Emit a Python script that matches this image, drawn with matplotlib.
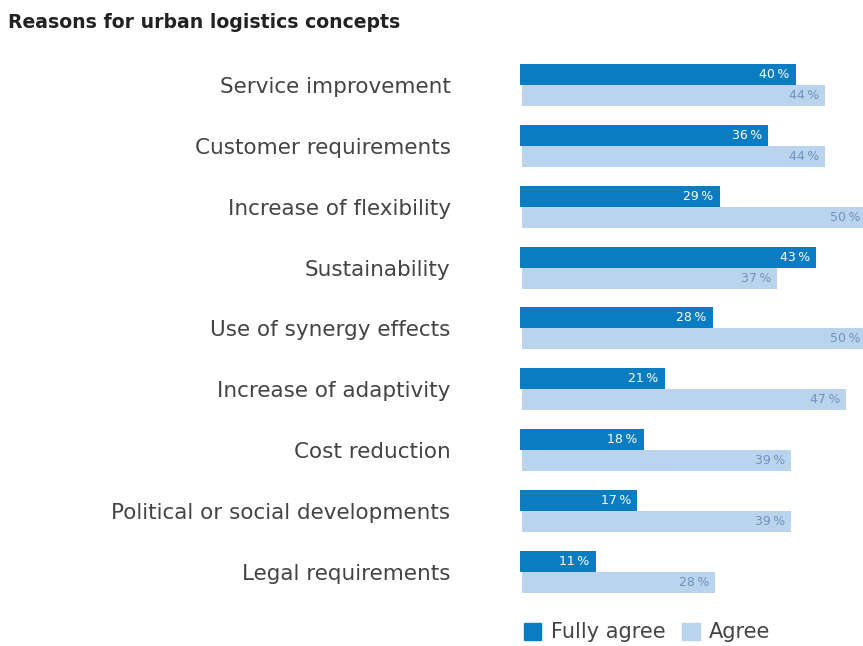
import numpy as np
import matplotlib.pyplot as plt
from matplotlib.patches import Patch

categories = [
    "Service improvement",
    "Customer requirements",
    "Increase of flexibility",
    "Sustainability",
    "Use of synergy effects",
    "Increase of adaptivity",
    "Cost reduction",
    "Political or social developments",
    "Legal requirements",
]
fully_agree = [40, 36, 29, 43, 28, 21, 18, 17, 11]
agree = [44, 44, 50, 37, 50, 47, 39, 39, 28]

dark = "#0a7cc1"
light = "#bad4ee"
light_text = "#6e93bb"
label_color = "#444444"

fig = plt.figure(figsize=(8.63, 6.46), dpi=100)
ax = fig.add_axes([0.6026, 0.0675, 0.3974, 0.848])

y = np.arange(len(categories))
h = 0.345
ax.barh(y - h / 2, fully_agree, height=h, color=dark)
ax.barh(y + h / 2, agree, height=h, color=light, left=0.3)

for i in range(len(categories)):
    ax.text(fully_agree[i] - 0.9, y[i] - h / 2, f"{fully_agree[i]}\u2009%",
            ha="right", va="center", color="white", fontsize=9)
    ax.text(agree[i] - 0.5, y[i] + h / 2, f"{agree[i]}\u2009%",
            ha="right", va="center", color=light_text, fontsize=9)

ax.set_xlim(0, 49.8)
ax.set_ylim(len(categories) - 0.5, -0.5)
ax.set_yticks(y)
ax.set_yticklabels(categories, fontsize=15.5, color=label_color)
ax.tick_params(axis="y", length=0, pad=50)
ax.set_xticks([])
for s in ax.spines.values():
    s.set_visible(False)

fig.text(0.009, 0.965, "Reasons for urban logistics concepts", fontsize=13.6,
         fontweight="bold", color="#222222", ha="left", va="center")

handles = [Patch(color=dark, label="Fully agree"), Patch(color=light, label="Agree")]
fig.legend(handles=handles, loc="center left", bbox_to_anchor=(0.585, 0.021),
           ncol=2, frameon=False, fontsize=15, handlelength=0.85, handleheight=0.85,
           handletextpad=0.45, columnspacing=0.8, labelcolor=label_color)

fig.savefig("out.png", dpi=100)
